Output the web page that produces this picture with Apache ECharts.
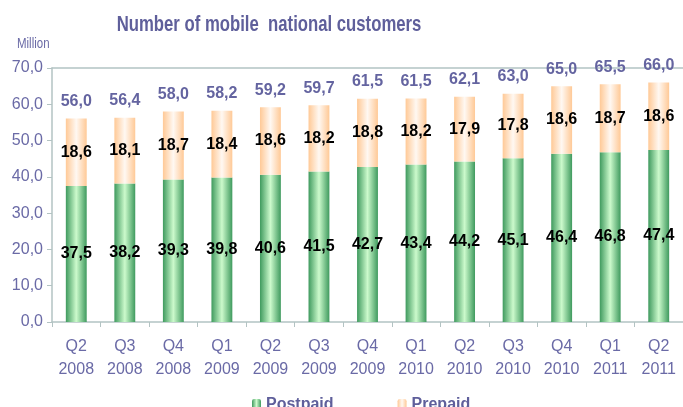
<!DOCTYPE html>
<html><head><meta charset="utf-8">
<script src="https://cdn.jsdelivr.net/npm/echarts@6/dist/echarts.min.js"></script>
<style>html,body{margin:0;padding:0;background:#fff}#c{width:683px;height:407px}</style>
</head><body><div id="c"></div>
<script>
const categories = ['Q2\n2008','Q3\n2008','Q4\n2008','Q1\n2009','Q2\n2009','Q3\n2009','Q4\n2009','Q1\n2010','Q2\n2010','Q3\n2010','Q4\n2010','Q1\n2011','Q2\n2011'];
const postpaid = [37.5,38.2,39.3,39.8,40.6,41.5,42.7,43.4,44.2,45.1,46.4,46.8,47.4];
const prepaid  = [18.6,18.1,18.7,18.4,18.6,18.2,18.8,18.2,17.9,17.8,18.6,18.7,18.6];
const totals   = [56.0,56.4,58.0,58.2,59.2,59.7,61.5,61.5,62.1,63.0,65.0,65.5,66.0];
const titleText = 'Number of mobile  national customers';
const unitText = 'Million';

const fmt = v => Number(v).toFixed(1).replace('.', ',');
const axisCol = '#b3c3c3';
const txtCol = '#6a6aa6';
const grad = (e, c) => new echarts.graphic.LinearGradient(0,0,1,0,[{offset:0,color:e},{offset:0.5,color:c},{offset:1,color:e}]);

const chart = echarts.init(document.getElementById('c'));
chart.setOption({
  animation:false,
  graphic:[
    {type:'text', x:269, y:14, scaleX:0.76, style:{text:titleText, textAlign:'center', textVerticalAlign:'top',
      font:'bold 22px "Liberation Sans", Arial, sans-serif', fill:'#5f5f9b'}},
    {type:'text', x:17, y:37, scaleX:0.82, style:{text:unitText, textVerticalAlign:'top',
      font:'14px "Liberation Sans", Arial, sans-serif', fill:txtCol}}
  ],
  legend:{data:['Postpaid','Prepaid'], left:247, top:392, itemWidth:9, itemHeight:12, itemGap:64,
    textStyle:{fontFamily:'Liberation Sans', fontWeight:'bold', fontSize:16, color:'#5f5f9b'}},
  grid:{left:52, right:0, top:68, bottom:85},
  xAxis:[{type:'category', data:categories,
    axisLine:{lineStyle:{color:axisCol, width:1.5}},
    axisTick:{show:true, length:5, lineStyle:{color:axisCol}},
    axisLabel:{fontFamily:'Liberation Sans', fontSize:16, color:txtCol, lineHeight:23, margin:13, interval:0}},
    {type:'category', data:categories, position:'top', axisLine:{show:true, lineStyle:{color:axisCol, width:1.5}}, axisTick:{show:false}, axisLabel:{show:false}}],
  yAxis:{type:'value', min:0, max:70, interval:10,
    axisLine:{show:true, lineStyle:{color:axisCol, width:1.5}},
    axisTick:{show:true, length:5, lineStyle:{color:axisCol}},
    splitLine:{show:false},
    axisLabel:{fontFamily:'Liberation Sans', fontSize:16, color:txtCol, margin:9, formatter:v=>fmt(v)}},
  series:[
    {name:'Postpaid', type:'bar', stack:'a', data:postpaid, barWidth:'43%',
      itemStyle:{color:grad('#3f9a5e','#ccfacc')},
      label:{show:true, position:'inside', formatter:p=>fmt(p.value), fontFamily:'Liberation Sans', fontWeight:'bold', fontSize:16, color:'#000'}},
    {name:'Prepaid', type:'bar', stack:'a', data:prepaid,
      itemStyle:{color:grad('#ffc996','#fff8f2')},
      label:{show:true, position:'inside', formatter:p=>fmt(p.value), fontFamily:'Liberation Sans', fontWeight:'bold', fontSize:16, color:'#000'}},
    {name:'Total', type:'bar', stack:'a', data:totals.map(()=>0),
      itemStyle:{color:'transparent'},
      label:{show:true, position:'top', distance:9, formatter:p=>fmt(totals[p.dataIndex]), fontFamily:'Liberation Sans', fontWeight:'bold', fontSize:16, color:'#6464a0'}}
  ]
});
</script></body></html>
